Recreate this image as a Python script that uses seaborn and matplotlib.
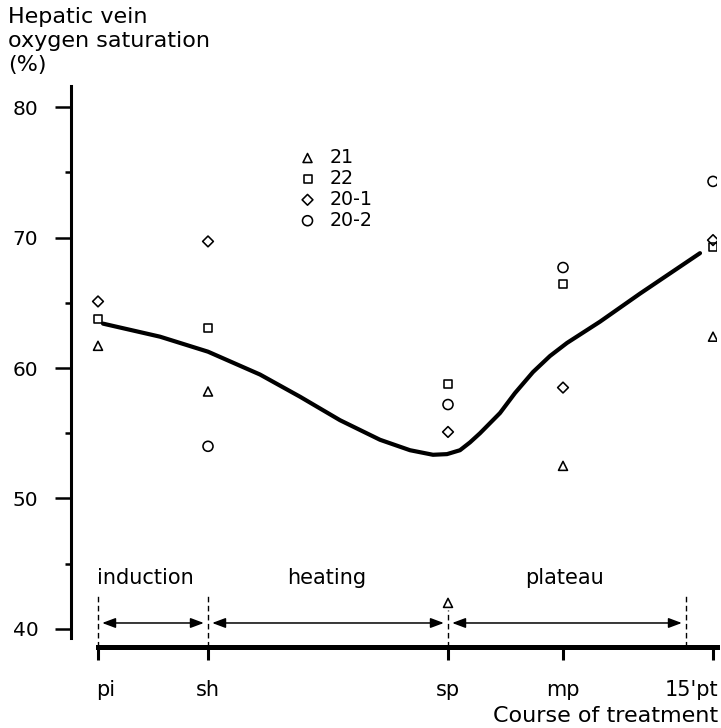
import numpy as np
import matplotlib
matplotlib.use("Agg")
import matplotlib.pyplot as plt
import matplotlib.transforms as mtransforms
import seaborn as sns
from matplotlib.ticker import FixedLocator

# ---- data ----
stages = ["pi", "sh", "sp", "mp", "15'pt"]
stage_pos = [0, 11, 35, 46.5, 61.5]

subjects = ["21", "22", "20-1", "20-2"]
sat_21 = [61.7, 58.2, 42.0, 52.5, 62.4]
sat_22 = [63.75, 63.1, 58.8, 66.4, 69.3]
sat_20_1 = [65.1, 69.7, 55.1, 58.5, 69.8]
sat_20_2 = [np.nan, 54.0, 57.2, 67.7, 74.3]

trend_x = [0.5, 6.2, 11, 16.2, 20.2, 24.2, 28.2, 31.2, 33.5, 34.9, 36.2,
           37.2, 38.2, 40.2, 41.7, 43.5, 45.2, 46.9, 50.2, 54.2, 60.2]
trend_y = [63.4, 62.4, 61.25, 59.5, 57.8, 56.0, 54.5, 53.7, 53.35, 53.4,
           53.7, 54.3, 55.0, 56.55, 58.08, 59.69, 60.92, 61.92, 63.55, 65.7, 68.8]

phases = ["induction", "heating", "plateau"]
phase_bounds = [0, 11, 35, 58.8]
phase_label_x = [4.7, 22.9, 46.6]

y_ticks = [40, 50, 60, 70, 80]
y_minor = [45, 55, 65, 75]

# ---- style ----
sns.set_style("ticks")
plt.rcParams["font.family"] = ["DejaVu Sans"]
plt.rcParams["text.color"] = "black"
plt.rcParams["axes.labelcolor"] = "black"
plt.rcParams["xtick.color"] = "black"
plt.rcParams["ytick.color"] = "black"
plt.rcParams["axes.edgecolor"] = "black"

fig = plt.figure(figsize=(7.21, 7.28), dpi=100)
W, H = 721, 728
ax = fig.add_axes([71 / W, (H - 647) / H, 646 / W, (647 - 86) / H])
ax.set_xlim(-2.7, 61.9)
ax.set_ylim(38.62, 81.61)

series = [sat_21, sat_22, sat_20_1, sat_20_2]
markers = ["^", "s", "D", "o"]
sizes = [42, 33, 30, 52]
for name, vals, m, s in zip(subjects, series, markers, sizes):
    sns.scatterplot(x=stage_pos, y=vals, marker=m, s=s, color="black",
                    facecolors="none", edgecolor="black", linewidth=1.15,
                    label=name, ax=ax, zorder=3)

sns.lineplot(x=trend_x, y=trend_y, sort=False, estimator=None, color="black",
             lw=3.0, ax=ax, solid_capstyle="round", solid_joinstyle="round")

# phase markers: dashed verticals, arrows, labels
dash_tops = [42.6, 42.7, 41.45, 42.7]
for xb, top in zip(phase_bounds, dash_tops):
    ax.plot([xb, xb], [38.62, top], color="black", lw=1.0,
            linestyle=(0, (4, 2.5)), zorder=2)
arrow_y = 40.46
for i in range(3):
    ax.annotate("", xy=(phase_bounds[i + 1], arrow_y),
                xytext=(phase_bounds[i], arrow_y),
                arrowprops=dict(arrowstyle="<|-|>,head_length=0.4,head_width=0.15",
                                color="black", lw=1.1, mutation_scale=20,
                                shrinkA=3, shrinkB=3))
    ax.text(phase_label_x[i], 43.9, phases[i], ha="center", va="center",
            fontsize=15, color="black")

# axes styling
for sp in ["top", "right"]:
    ax.spines[sp].set_visible(False)
ax.spines["left"].set_bounds(39.3, 81.6)
ax.spines["left"].set_linewidth(2.2)
ax.spines["bottom"].set_bounds(0, 61.9)
ax.spines["bottom"].set_linewidth(3.6)

ax.set_yticks(y_ticks)
ax.yaxis.set_minor_locator(FixedLocator(y_minor))
ax.tick_params(axis="y", which="major", direction="out", length=11.5,
               width=1.8, pad=12, labelsize=14.5, colors="black")
ax.tick_params(axis="y", which="minor", direction="out", length=4.5, width=1.8,
               colors="black")
ax.set_xticks(stage_pos, stages)
ax.tick_params(axis="x", direction="out", length=9.5, width=2.2, pad=14,
               labelsize=15, colors="black")
ax.set_xlabel("")
ax.set_ylabel("")

# shift the edge tick labels inward as in the reference
xlabels = ax.get_xticklabels()
shift_px = [8, 0, 0, 0, -22]
for lab, dx in zip(xlabels, shift_px):
    if dx:
        lab.set_transform(lab.get_transform() +
                          mtransforms.ScaledTranslation(dx / 100, 0, fig.dpi_scale_trans))

# legend
handles, labels = ax.get_legend_handles_labels()
leg = ax.legend(handles[:4], labels[:4], loc="upper left",
                bbox_to_anchor=(298 / W, (H - 148) / H), bbox_transform=fig.transFigure,
                frameon=False, fontsize=13.7, borderpad=0, labelspacing=0.1,
                handlelength=1.0, handletextpad=0.65, borderaxespad=0)
for t in leg.get_texts():
    t.set_color("black")

# titles
fig.text(8 / W, (H - 23) / H, "Hepatic vein", fontsize=16, va="baseline")
fig.text(8 / W, (H - 47) / H, "oxygen saturation", fontsize=16, va="baseline")
fig.text(8 / W, (H - 71) / H, "(%)", fontsize=16, va="baseline")
fig.text(718 / W, (H - 722) / H, "Course of treatment", fontsize=16,
         ha="right", va="baseline")

fig.savefig("out.png", dpi=100)
